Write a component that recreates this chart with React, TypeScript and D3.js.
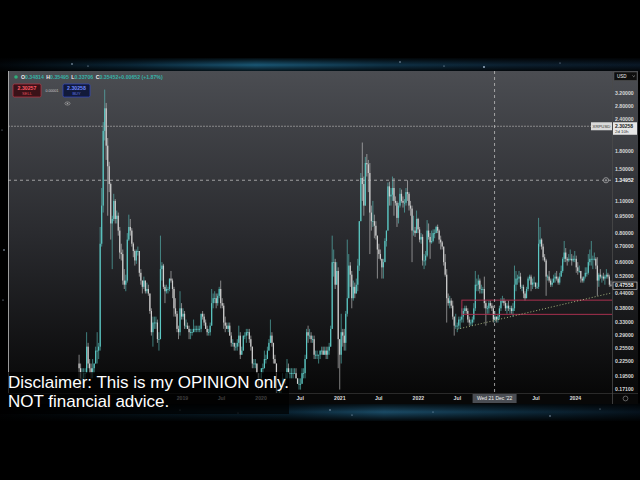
import React from "react";
import * as d3 from "d3";

// weekly candles: [high, low, close]; open = previous close
type Week = [number, number, number];

const seriesStart = Date.UTC(2017, 8, 4);
const seriesOpen = 0.22;

const weeks2017: Week[] = [
  [0.24, 0.19, 0.21], [0.22, 0.17, 0.19], [0.21, 0.18, 0.19], [0.21, 0.19, 0.2],
  [0.21, 0.19, 0.2], [0.3, 0.2, 0.26], [0.27, 0.21, 0.22], [0.23, 0.2, 0.21],
  [0.22, 0.19, 0.2], [0.23, 0.19, 0.21], [0.22, 0.2, 0.22], [0.26, 0.22, 0.25],
  [0.3, 0.22, 0.25], [0.27, 0.23, 0.26], [0.85, 0.25, 0.72], [1.25, 0.7, 1.05],
  [2.4, 0.98, 2.2],
];

const weeks2018: Week[] = [
  [3.31, 2.0, 2.75], [2.9, 1.65, 1.9], [2.05, 0.95, 1.55], [1.62, 1.2, 1.3],
  [1.32, 0.75, 0.88], [0.95, 0.56, 0.92], [1.18, 0.9, 1.1], [1.12, 0.88, 0.92],
  [1.0, 0.88, 0.95], [0.98, 0.78, 0.82], [0.85, 0.62, 0.66], [0.72, 0.61, 0.65],
  [0.68, 0.48, 0.5], [0.56, 0.46, 0.48], [0.53, 0.45, 0.5], [0.8, 0.49, 0.75],
  [0.96, 0.74, 0.85], [0.92, 0.78, 0.82], [0.84, 0.7, 0.72], [0.73, 0.63, 0.67],
  [0.68, 0.58, 0.61], [0.68, 0.59, 0.67], [0.7, 0.64, 0.67], [0.66, 0.52, 0.54],
  [0.56, 0.48, 0.5], [0.5, 0.44, 0.47], [0.52, 0.46, 0.5], [0.5, 0.44, 0.45],
  [0.49, 0.44, 0.46], [0.48, 0.43, 0.44], [0.44, 0.36, 0.37], [0.38, 0.29, 0.3],
  [0.35, 0.26, 0.33], [0.35, 0.31, 0.33], [0.35, 0.31, 0.33], [0.34, 0.27, 0.28],
  [0.3, 0.25, 0.28], [0.78, 0.28, 0.56], [0.6, 0.5, 0.58], [0.59, 0.46, 0.47],
  [0.48, 0.4, 0.45], [0.48, 0.44, 0.46], [0.47, 0.44, 0.46], [0.51, 0.45, 0.51],
  [0.55, 0.49, 0.5], [0.51, 0.42, 0.46], [0.47, 0.35, 0.38], [0.42, 0.35, 0.36],
  [0.37, 0.3, 0.31], [0.32, 0.28, 0.3], [0.45, 0.29, 0.38], [0.4, 0.34, 0.35],
];

const weeks2019: Week[] = [
  [0.38, 0.34, 0.36], [0.37, 0.31, 0.32], [0.34, 0.31, 0.32], [0.33, 0.31, 0.31],
  [0.32, 0.28, 0.3], [0.31, 0.28, 0.3], [0.31, 0.29, 0.3], [0.34, 0.3, 0.31],
  [0.32, 0.3, 0.31], [0.32, 0.3, 0.31], [0.32, 0.3, 0.31], [0.32, 0.3, 0.31],
  [0.36, 0.3, 0.36], [0.37, 0.34, 0.35], [0.36, 0.32, 0.33], [0.34, 0.31, 0.31],
  [0.32, 0.29, 0.3], [0.31, 0.29, 0.3], [0.33, 0.29, 0.32], [0.46, 0.32, 0.4],
  [0.44, 0.38, 0.42], [0.45, 0.4, 0.42], [0.44, 0.38, 0.4], [0.44, 0.39, 0.43],
  [0.47, 0.42, 0.46], [0.5, 0.38, 0.4], [0.42, 0.38, 0.39], [0.4, 0.31, 0.33],
  [0.35, 0.3, 0.32], [0.33, 0.31, 0.31], [0.33, 0.3, 0.32], [0.33, 0.29, 0.29],
  [0.3, 0.26, 0.27], [0.28, 0.26, 0.27], [0.27, 0.25, 0.26], [0.27, 0.25, 0.26],
  [0.28, 0.25, 0.27], [0.32, 0.26, 0.29], [0.3, 0.23, 0.24], [0.26, 0.24, 0.25],
  [0.29, 0.25, 0.29], [0.3, 0.28, 0.29], [0.31, 0.27, 0.3], [0.31, 0.29, 0.3],
  [0.31, 0.27, 0.28], [0.29, 0.25, 0.26], [0.26, 0.21, 0.22], [0.23, 0.21, 0.22],
  [0.23, 0.21, 0.22], [0.22, 0.2, 0.2], [0.2, 0.17, 0.19], [0.2, 0.19, 0.19],
];

const weeks2020: Week[] = [
  [0.21, 0.19, 0.21], [0.22, 0.2, 0.21], [0.25, 0.21, 0.23], [0.24, 0.22, 0.23],
  [0.26, 0.23, 0.25], [0.28, 0.25, 0.27], [0.34, 0.27, 0.29], [0.3, 0.26, 0.27],
  [0.27, 0.22, 0.23], [0.24, 0.22, 0.22], [0.22, 0.12, 0.15], [0.17, 0.14, 0.15],
  [0.17, 0.15, 0.17], [0.18, 0.16, 0.18], [0.2, 0.18, 0.19], [0.19, 0.17, 0.19],
  [0.2, 0.18, 0.19], [0.23, 0.19, 0.21], [0.22, 0.2, 0.2], [0.21, 0.19, 0.2],
  [0.21, 0.19, 0.2], [0.21, 0.19, 0.2], [0.21, 0.2, 0.2], [0.21, 0.19, 0.19],
  [0.19, 0.18, 0.18], [0.19, 0.17, 0.18], [0.19, 0.17, 0.18], [0.21, 0.18, 0.2],
  [0.21, 0.19, 0.2], [0.24, 0.19, 0.23], [0.31, 0.23, 0.3], [0.32, 0.27, 0.29],
  [0.31, 0.28, 0.29], [0.3, 0.27, 0.28], [0.29, 0.27, 0.28], [0.29, 0.23, 0.24],
  [0.25, 0.23, 0.24], [0.25, 0.23, 0.24], [0.24, 0.22, 0.24], [0.25, 0.23, 0.25],
  [0.26, 0.24, 0.25], [0.26, 0.24, 0.24], [0.26, 0.24, 0.25], [0.26, 0.23, 0.24],
  [0.26, 0.23, 0.25], [0.27, 0.24, 0.26], [0.32, 0.26, 0.31], [0.78, 0.31, 0.6],
  [0.68, 0.52, 0.6], [0.62, 0.46, 0.48], [0.6, 0.48, 0.55], [0.57, 0.21, 0.28],
];

const weeks2021: Week[] = [
  [0.28, 0.17, 0.24], [0.36, 0.22, 0.3], [0.31, 0.26, 0.29], [0.31, 0.25, 0.27],
  [0.37, 0.25, 0.36], [0.75, 0.35, 0.42], [0.65, 0.42, 0.58], [0.6, 0.47, 0.53],
  [0.55, 0.38, 0.42], [0.5, 0.41, 0.47], [0.49, 0.42, 0.44], [0.51, 0.44, 0.48],
  [0.62, 0.45, 0.58], [0.9, 0.55, 0.9], [1.45, 0.9, 1.38], [1.96, 1.1, 1.3],
  [1.4, 0.95, 1.05], [1.7, 1.05, 1.6], [1.75, 1.4, 1.58], [1.65, 1.2, 1.45],
  [1.6, 0.65, 0.98], [1.05, 0.82, 0.9], [1.1, 0.85, 0.9], [0.96, 0.76, 0.86],
  [0.9, 0.75, 0.78], [0.78, 0.51, 0.68], [0.72, 0.62, 0.65], [0.68, 0.61, 0.62],
  [0.62, 0.51, 0.57], [0.62, 0.51, 0.6], [0.76, 0.6, 0.74], [0.82, 0.7, 0.82],
  [1.32, 0.82, 1.27], [1.33, 1.05, 1.15], [1.25, 1.05, 1.17], [1.4, 1.1, 1.25],
  [1.38, 0.95, 1.1], [1.15, 1.05, 1.08], [1.1, 0.85, 0.93], [1.08, 0.88, 1.05],
  [1.25, 1.03, 1.18], [1.23, 1.08, 1.1], [1.15, 1.03, 1.08], [1.12, 0.98, 1.08],
  [1.25, 1.05, 1.2], [1.35, 1.1, 1.18], [1.2, 1.0, 1.05], [1.1, 0.95, 1.02],
  [1.05, 0.6, 0.82], [0.95, 0.78, 0.82], [0.85, 0.77, 0.8], [1.0, 0.8, 0.92],
];

const weeks2022: Week[] = [
  [0.93, 0.8, 0.83], [0.85, 0.73, 0.75], [0.8, 0.72, 0.77], [0.79, 0.58, 0.61],
  [0.65, 0.56, 0.61], [0.67, 0.58, 0.64], [0.91, 0.63, 0.82], [0.88, 0.75, 0.77],
  [0.8, 0.62, 0.73], [0.82, 0.72, 0.74], [0.83, 0.73, 0.8], [0.83, 0.76, 0.8],
  [0.86, 0.8, 0.85], [0.87, 0.8, 0.82], [0.83, 0.72, 0.75], [0.78, 0.68, 0.73],
  [0.74, 0.68, 0.7], [0.7, 0.58, 0.6], [0.65, 0.52, 0.53], [0.56, 0.33, 0.42],
  [0.44, 0.39, 0.4], [0.43, 0.38, 0.41], [0.42, 0.38, 0.39], [0.41, 0.34, 0.35],
  [0.35, 0.29, 0.32], [0.36, 0.31, 0.32], [0.33, 0.3, 0.32], [0.35, 0.31, 0.34],
  [0.35, 0.31, 0.34], [0.38, 0.33, 0.35], [0.38, 0.33, 0.37], [0.39, 0.36, 0.38],
  [0.39, 0.36, 0.37], [0.38, 0.33, 0.34], [0.35, 0.32, 0.33], [0.34, 0.32, 0.33],
  [0.35, 0.32, 0.34], [0.4, 0.33, 0.38], [0.55, 0.37, 0.48], [0.51, 0.45, 0.48],
  [0.53, 0.45, 0.5], [0.51, 0.44, 0.46], [0.48, 0.44, 0.46], [0.47, 0.44, 0.46],
  [0.52, 0.38, 0.4], [0.41, 0.32, 0.38], [0.39, 0.36, 0.38], [0.41, 0.36, 0.4],
  [0.41, 0.38, 0.39], [0.4, 0.37, 0.38], [0.39, 0.33, 0.34], [0.37, 0.33, 0.35],
];

const weeks2023: Week[] = [
  [0.35, 0.33, 0.34], [0.36, 0.33, 0.35], [0.39, 0.34, 0.38], [0.42, 0.37, 0.41],
  [0.43, 0.4, 0.41], [0.42, 0.39, 0.4], [0.41, 0.37, 0.38], [0.4, 0.36, 0.39],
  [0.41, 0.37, 0.38], [0.39, 0.36, 0.38], [0.39, 0.36, 0.37], [0.4, 0.35, 0.38],
  [0.58, 0.37, 0.48], [0.55, 0.45, 0.51], [0.53, 0.48, 0.51], [0.55, 0.49, 0.52],
  [0.54, 0.46, 0.47], [0.48, 0.45, 0.47], [0.48, 0.42, 0.44], [0.45, 0.41, 0.42],
  [0.47, 0.42, 0.46], [0.52, 0.45, 0.51], [0.53, 0.5, 0.52], [0.53, 0.45, 0.48],
  [0.51, 0.46, 0.49], [0.52, 0.47, 0.49], [0.49, 0.46, 0.47], [0.49, 0.46, 0.47],
  [0.93, 0.46, 0.72], [0.85, 0.7, 0.75], [0.76, 0.68, 0.7], [0.72, 0.61, 0.63],
  [0.65, 0.6, 0.61], [0.62, 0.43, 0.52], [0.53, 0.5, 0.52], [0.55, 0.49, 0.5],
  [0.51, 0.47, 0.48], [0.51, 0.47, 0.49], [0.53, 0.49, 0.51], [0.54, 0.49, 0.52],
  [0.55, 0.5, 0.51], [0.52, 0.48, 0.49], [0.54, 0.48, 0.52], [0.58, 0.52, 0.55],
  [0.63, 0.54, 0.62], [0.74, 0.6, 0.66], [0.69, 0.6, 0.62], [0.63, 0.58, 0.61],
  [0.65, 0.6, 0.62], [0.68, 0.61, 0.62], [0.65, 0.58, 0.61], [0.64, 0.6, 0.62],
];

const weeks2024: Week[] = [
  [0.67, 0.6, 0.62], [0.64, 0.54, 0.57], [0.6, 0.53, 0.55], [0.58, 0.54, 0.55],
  [0.55, 0.49, 0.51], [0.52, 0.49, 0.5], [0.52, 0.49, 0.52], [0.57, 0.51, 0.54],
  [0.57, 0.52, 0.54], [0.65, 0.53, 0.6], [0.68, 0.58, 0.62], [0.74, 0.58, 0.62],
  [0.64, 0.56, 0.62], [0.66, 0.61, 0.62], [0.63, 0.56, 0.58], [0.63, 0.43, 0.5],
  [0.54, 0.47, 0.53], [0.56, 0.51, 0.52], [0.53, 0.49, 0.52], [0.54, 0.5, 0.51],
  [0.53, 0.48, 0.52], [0.56, 0.51, 0.53], [0.54, 0.51, 0.52], [0.53, 0.47, 0.48],
  [0.5, 0.47, 0.4756],
];

// ticks hidden behind the axis labels in the reference (2.1, 1.3, 2023) are left out
const priceTicks = [3.2, 2.8, 2.4, 1.8, 1.5, 1.1, 0.95, 0.8, 0.7, 0.6, 0.52, 0.44, 0.38, 0.33, 0.29, 0.255, 0.225, 0.195, 0.171];
const timeTicks: [string, string][] = [
  ["2019-01-01", "2019"], ["2019-07-01", "Jul"], ["2020-01-01", "2020"], ["2020-07-01", "Jul"],
  ["2021-01-01", "2021"], ["2021-07-01", "Jul"], ["2022-01-01", "2022"], ["2022-07-01", "Jul"],
  ["2023-07-01", "Jul"], ["2024-01-01", "2024"],
];

const lastPrice = 0.47558;
const markPrice = 2.30258;
const crossPrice = 1.34952;
const crossDate = "2022-12-21";
const zoneTop = 0.412;
const zoneBottom = 0.358;
const zoneStart = "2022-07-22";
const trendPoints: [string, number][] = [["2022-07-01", 0.309], ["2024-06-14", 0.442]];
const legendItems: [string, string][] = [["O", "0.34814"], ["H", "0.35495"], ["L", "0.33706"], ["C", "0.35452"], ["", "+0.00652 (+1.87%)"]];
const stars: [number, number, number][] = [
  [72, 64, 0.8], [88, 66, 0.6], [400, 62, 0.7], [444, 66, 0.6], [484, 67, 0.9], [560, 63, 0.5],
  [180, 410, 0.6], [238, 413, 0.6], [330, 410, 0.7], [352, 415, 0.6], [433, 412, 0.5],
  [550, 416, 0.7], [600, 409, 0.5], [3, 300, 0.6], [4, 250, 0.8], [2, 130, 0.5],
];

const font = "'Liberation Sans', Arial, sans-serif";

export default function App() {
  const width = 640;
  const height = 480;
  const left = 8;
  const plotRight = 612;
  const right = 638;
  const top = 71;
  const plotBottom = 393;
  const bottom = 404;

  const x = d3.scaleUtc().domain([new Date("2019-01-01"), new Date("2024-01-01")]).range([182.5, 575.5]);
  const y = d3.scaleLog().domain([0.171, 3.2]).range([389, 93]);
  const fmt = d3.format(".5f");

  const weeks = [...weeks2017, ...weeks2018, ...weeks2019, ...weeks2020, ...weeks2021, ...weeks2022, ...weeks2023, ...weeks2024];
  let prev = seriesOpen;
  const candles = weeks.map(([h, l, c], i) => {
    const o = prev;
    prev = c;
    return { date: new Date(seriesStart + (i * 7 + 3.5) * 864e5), o, h, l, c };
  });

  const trend = d3
    .line<[string, number]>()
    .x((d) => x(new Date(d[0])))
    .y((d) => y(d[1]));

  const cx = x(new Date(crossDate));
  const cy = y(crossPrice);
  const my = y(markPrice);
  const ly = y(lastPrice);

  // tick labels that would sit under the mark-price label get pushed above it
  const tickY = (t: number) => {
    const ty = y(t);
    return Math.abs(ty - my) < 6 ? my - 7.5 : ty;
  };

  return (
    <svg
      width={width}
      height={height}
      style={{ position: "absolute", left: 0, top: 0, display: "block", fontFamily: font }}
    >
      <defs>
        <linearGradient id="panelBg" x1="0" y1="0" x2="0" y2="1">
          <stop offset="0" stopColor="#4b4d52" />
          <stop offset="0.5" stopColor="#292a2e" />
          <stop offset="1" stopColor="#050505" />
        </linearGradient>
        <linearGradient id="bandTop" x1="0" y1="0" x2="1" y2="0">
          <stop offset="0" stopColor="#02060a" />
          <stop offset="0.2" stopColor="#0a2536" />
          <stop offset="0.4" stopColor="#1a5775" />
          <stop offset="0.6" stopColor="#0f3247" />
          <stop offset="0.8" stopColor="#0c2030" />
          <stop offset="1" stopColor="#0a1826" />
        </linearGradient>
        <linearGradient id="bandBottom" x1="0" y1="0" x2="1" y2="0">
          <stop offset="0" stopColor="#010203" />
          <stop offset="0.45" stopColor="#0a2434" />
          <stop offset="0.6" stopColor="#1a4b66" />
          <stop offset="0.8" stopColor="#0e2c3e" />
          <stop offset="1" stopColor="#06121c" />
        </linearGradient>
        <linearGradient id="fadeV" x1="0" y1="0" x2="0" y2="1">
          <stop offset="0" stopColor="#000" stopOpacity="0.9" />
          <stop offset="0.5" stopColor="#000" stopOpacity="0" />
          <stop offset="1" stopColor="#000" stopOpacity="0.9" />
        </linearGradient>
        <clipPath id="plotClip">
          <rect x={left} y={top} width={plotRight - left} height={plotBottom - top} />
        </clipPath>
      </defs>

      {/* background */}
      <rect width={width} height={height} fill="#000" />
      <rect x={0} y={58} width={width} height={14} fill="url(#bandTop)" />
      <rect x={0} y={58} width={width} height={14} fill="url(#fadeV)" />
      <rect x={0} y={403} width={width} height={18} fill="url(#bandBottom)" />
      <rect x={0} y={403} width={width} height={18} fill="url(#fadeV)" />
      {stars.map(([sx, sy, r], i) => (
        <circle key={i} cx={sx} cy={sy} r={r} fill="#cfe6ff" opacity={0.8} />
      ))}

      {/* panel */}
      <rect x={left} y={top} width={right - left} height={bottom - top} fill="url(#panelBg)" />
      <rect x={left} y={plotBottom} width={right - left} height={bottom - plotBottom} fill="#080808" />
      <line x1={left} x2={right} y1={plotBottom + 0.5} y2={plotBottom + 0.5} stroke="#2a2a2a" />
      <line x1={plotRight + 0.5} x2={plotRight + 0.5} y1={top} y2={bottom} stroke="#4a4a4a" strokeWidth={0.8} />
      <line x1={left + 0.5} x2={left + 0.5} y1={top} y2={plotBottom} stroke="#bdbdbd" strokeWidth={0.8} />

      {/* candles */}
      <g clipPath="url(#plotClip)">
        {candles.map((d, i) => {
          const px = x(d.date);
          const up = d.c >= d.o;
          const col = up ? "#5cc7c3" : "#cfcfcf";
          const y0 = y(Math.max(d.o, d.c));
          const y1 = y(Math.min(d.o, d.c));
          return (
            <g key={i}>
              <line x1={px} x2={px} y1={y(d.h)} y2={y(d.l)} stroke={col} strokeWidth={0.6} />
              <rect x={px - 0.6} y={y0} width={1.2} height={Math.max(0.8, y1 - y0)} fill={col} />
            </g>
          );
        })}

        {/* zone */}
        <rect
          x={x(new Date(zoneStart))}
          y={y(zoneTop)}
          width={plotRight + 5 - x(new Date(zoneStart))}
          height={y(zoneBottom) - y(zoneTop)}
          fill="none"
          stroke="#a8304f"
          strokeWidth={1}
        />
        {/* trend line */}
        <path d={trend(trendPoints) ?? ""} fill="none" stroke="#b7c58a" strokeWidth={0.9} strokeDasharray="1 2" />

        {/* mark price line */}
        <line x1={left} x2={plotRight} y1={my} y2={my} stroke="#a9a9a9" strokeWidth={0.7} strokeDasharray="2 1" />
        {/* crosshair */}
        <line x1={left} x2={plotRight} y1={cy} y2={cy} stroke="#bdbdbd" strokeWidth={0.8} strokeDasharray="3 3" />
        <line x1={cx} x2={cx} y1={top} y2={plotBottom} stroke="#bdbdbd" strokeWidth={0.8} strokeDasharray="3 3" />
      </g>

      {/* price axis */}
      <g fontSize={5.2} fontWeight="bold" fill="#d6d6d6">
        {priceTicks.map((t) => (
          <text key={t} x={615} y={tickY(t)} dy="0.35em">
            {fmt(t)}
          </text>
        ))}
      </g>

      {/* time axis */}
      <g fontSize={5.2} fontWeight="bold" fill="#dcdcdc" textAnchor="middle">
        {timeTicks.map(([d, label]) => (
          <text key={d} x={x(new Date(d))} y={398.5} dy="0.35em">
            {label}
          </text>
        ))}
      </g>
      <rect x={cx - 22} y={394} width={44} height={9} fill="#4a4d53" />
      <text x={cx} y={398.5} dy="0.35em" fontSize={5} fill="#f0f0f0" textAnchor="middle">
        Wed 21 Dec '22
      </text>

      {/* axis labels */}
      <rect x={591} y={my - 4} width={21} height={8} fill="#dadada" />
      <text x={601.5} y={my} dy="0.35em" fontSize={4.3} fill="#333" textAnchor="middle">
        XRPUSD
      </text>
      <rect x={613} y={my - 4} width={24} height={12.5} fill="#e6e6e6" />
      <text x={615} y={my - 0.3} dy="0.35em" fontSize={5} fontWeight="bold" fill="#222">
        {fmt(markPrice)}
      </text>
      <text x={615} y={my + 5} dy="0.35em" fontSize={4.4} fill="#333">
        2d 10h
      </text>

      <rect x={613} y={cy - 4} width={24} height={8} fill="#33353a" />
      <text x={615} y={cy} dy="0.35em" fontSize={5.2} fontWeight="bold" fill="#f2f2f2">
        {fmt(crossPrice)}
      </text>
      <circle cx={606} cy={cy} r={2.6} fill="#2c2e33" stroke="#cfcfcf" strokeWidth={0.6} />
      <path d={`M604.6,${cy}h2.8M606,${cy - 1.4}v2.8`} stroke="#cfcfcf" strokeWidth={0.6} />

      <rect x={613} y={ly - 3.6} width={24} height={7.2} fill="#141414" stroke="#dddddd" strokeWidth={0.6} />
      <text x={615} y={ly} dy="0.35em" fontSize={5.2} fontWeight="bold" fill="#f2f2f2">
        {fmt(lastPrice)}
      </text>

      <rect x={614} y={72} width={23} height={8.5} fill="#0e0e0e" stroke="#5a5a5a" strokeWidth={0.5} />
      <text x={617} y={76.3} dy="0.35em" fontSize={4.5} fill="#eee">
        USD
      </text>
      <path d="M632.5,75.5l1.2,1.2l1.2,-1.2" fill="none" stroke="#ddd" strokeWidth={0.5} />
      <circle cx={625.5} cy={398.5} r={2.4} fill="none" stroke="#9a9a9a" strokeWidth={0.6} />

      {/* legend */}
      <circle cx={16} cy={77} r={1.8} fill="#2fae7a" />
      <text x={21} y={77} dy="0.35em" fontSize={5.2} fontWeight="bold">
        {legendItems.map(([k, v], i) => (
          <React.Fragment key={i}>
            <tspan fill="#f0f0f0" dx={i ? 2.5 : 0}>{k}</tspan>
            <tspan fill="#36b3a8">{v}</tspan>
          </React.Fragment>
        ))}
      </text>

      {/* trade buttons */}
      <rect x={13} y={84} width={28} height={13} rx={1.5} fill="#3a1218" stroke="#c23545" strokeWidth={0.7} />
      <text x={27} y={88.5} dy="0.35em" fontSize={5.2} fontWeight="bold" fill="#ff5a66" textAnchor="middle">
        2.30257
      </text>
      <text x={27} y={94} dy="0.35em" fontSize={4} fill="#e14c5a" textAnchor="middle">
        SELL
      </text>
      <text x={52} y={91} dy="0.35em" fontSize={3.6} fill="#c8c8c8" textAnchor="middle">
        0.00001
      </text>
      <rect x={63} y={84} width={27} height={13} rx={1.5} fill="#121a3a" stroke="#3249c8" strokeWidth={0.7} />
      <text x={76.5} y={88.5} dy="0.35em" fontSize={5.2} fontWeight="bold" fill="#6f88ff" textAnchor="middle">
        2.30258
      </text>
      <text x={76.5} y={94} dy="0.35em" fontSize={4} fill="#5e76e8" textAnchor="middle">
        BUY
      </text>
      <ellipse cx={67.5} cy={103.5} rx={2.6} ry={1.6} fill="none" stroke="#aaa" strokeWidth={0.6} />
      <circle cx={67.5} cy={103.5} r={0.8} fill="#aaa" />

      {/* disclaimer */}
      <rect x={0} y={372} width={289} height={42} fill="#000" opacity={0.72} />
      <g fontSize={17} fill="#ffffff" style={{ fontFamily: font }}>
        <text x={8} y={388}>Disclaimer: This is my OPINION only.</text>
        <text x={8} y={407}>NOT financial advice.</text>
      </g>
    </svg>
  );
}
